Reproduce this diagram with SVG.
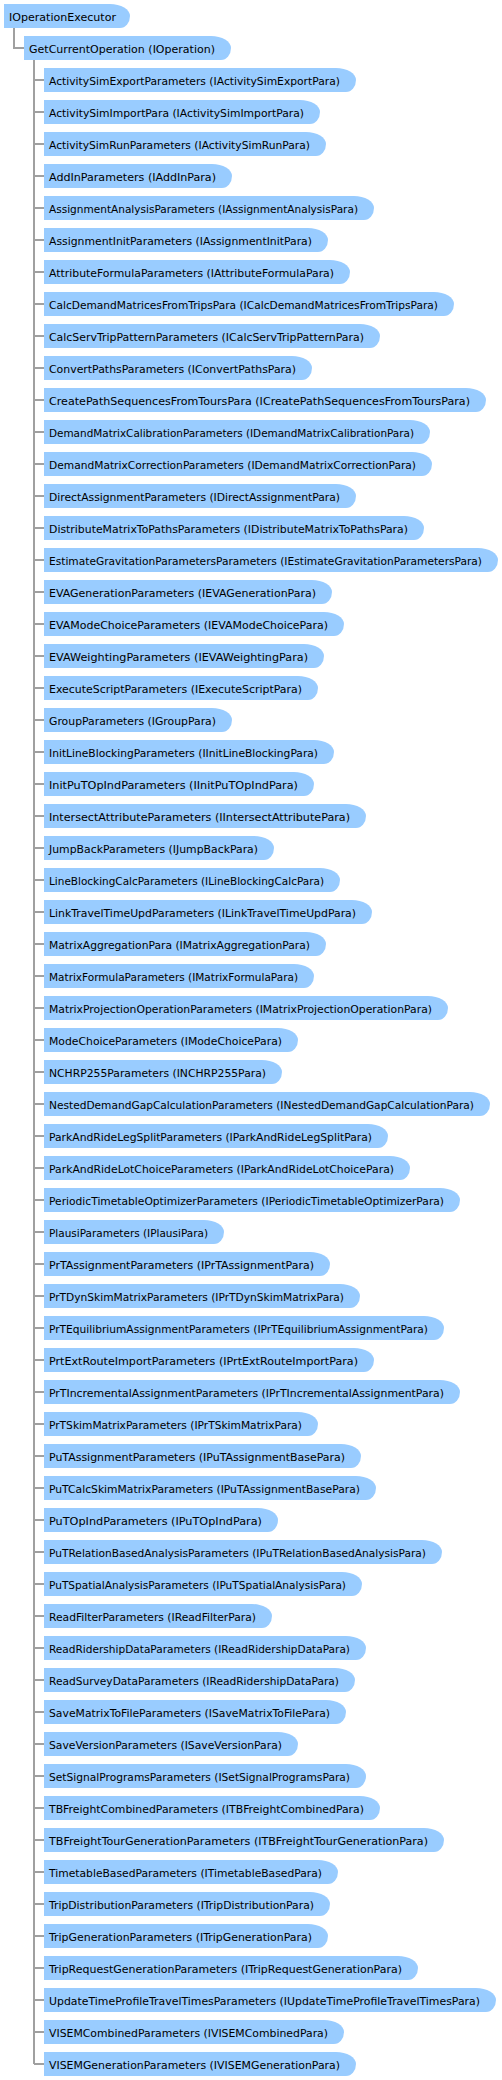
<svg xmlns="http://www.w3.org/2000/svg" width="502" height="2080" viewBox="0 0 502 2080">
<style>
.n path{fill:#99CCFF;stroke:none}
.n text{font-family:"DejaVu Sans",Verdana,sans-serif;font-size:11px;fill:#000}
.c{stroke:#A0A0A0;stroke-width:2;fill:none}
</style>
<rect width="502" height="2080" fill="#fff"/>
<g id="connectors" class="c">
<path d="M14 28V48H24M34 60V2064"/>
<path d="M34 80H44M34 112H44M34 144H44M34 176H44M34 208H44M34 240H44M34 272H44M34 304H44M34 336H44M34 368H44M34 400H44M34 432H44M34 464H44M34 496H44M34 528H44M34 560H44M34 592H44M34 624H44M34 656H44M34 688H44M34 720H44M34 752H44M34 784H44M34 816H44M34 848H44M34 880H44M34 912H44M34 944H44M34 976H44M34 1008H44M34 1040H44M34 1072H44M34 1104H44M34 1136H44M34 1168H44M34 1200H44M34 1232H44M34 1264H44M34 1296H44M34 1328H44M34 1360H44M34 1392H44M34 1424H44M34 1456H44M34 1488H44M34 1520H44M34 1552H44M34 1584H44M34 1616H44M34 1648H44M34 1680H44M34 1712H44M34 1744H44M34 1776H44M34 1808H44M34 1840H44M34 1872H44M34 1904H44M34 1936H44M34 1968H44M34 2000H44M34 2032H44M34 2064H44"/>
</g>
<g id="root" class="n"><path d="M4 4H110A20 12 0 0 1 130 16A10 12 0 0 1 120 28H4Z"/><text x="9" y="21" textLength="107" lengthAdjust="spacingAndGlyphs">IOperationExecutor</text></g>
<g id="getop" class="n"><path d="M24 36H211A20 12 0 0 1 231 48A10 12 0 0 1 221 60H24Z"/><text x="29" y="53" textLength="186" lengthAdjust="spacingAndGlyphs">GetCurrentOperation (IOperation)</text></g>
<g id="n1" class="n"><path d="M44 68H336A20 12 0 0 1 356 80A10 12 0 0 1 346 92H44Z"/><text x="49" y="85" textLength="291" lengthAdjust="spacingAndGlyphs">ActivitySimExportParameters (IActivitySimExportPara)</text></g>
<g id="n2" class="n"><path d="M44 100H300A20 12 0 0 1 320 112A10 12 0 0 1 310 124H44Z"/><text x="49" y="117" textLength="255" lengthAdjust="spacingAndGlyphs">ActivitySimImportPara (IActivitySimImportPara)</text></g>
<g id="n3" class="n"><path d="M44 132H306A20 12 0 0 1 326 144A10 12 0 0 1 316 156H44Z"/><text x="49" y="149" textLength="261" lengthAdjust="spacingAndGlyphs">ActivitySimRunParameters (IActivitySimRunPara)</text></g>
<g id="n4" class="n"><path d="M44 164H212A20 12 0 0 1 232 176A10 12 0 0 1 222 188H44Z"/><text x="49" y="181" textLength="167" lengthAdjust="spacingAndGlyphs">AddInParameters (IAddInPara)</text></g>
<g id="n5" class="n"><path d="M44 196H354A20 12 0 0 1 374 208A10 12 0 0 1 364 220H44Z"/><text x="49" y="213" textLength="309" lengthAdjust="spacingAndGlyphs">AssignmentAnalysisParameters (IAssignmentAnalysisPara)</text></g>
<g id="n6" class="n"><path d="M44 228H308A20 12 0 0 1 328 240A10 12 0 0 1 318 252H44Z"/><text x="49" y="245" textLength="263" lengthAdjust="spacingAndGlyphs">AssignmentInitParameters (IAssignmentInitPara)</text></g>
<g id="n7" class="n"><path d="M44 260H330A20 12 0 0 1 350 272A10 12 0 0 1 340 284H44Z"/><text x="49" y="277" textLength="285" lengthAdjust="spacingAndGlyphs">AttributeFormulaParameters (IAttributeFormulaPara)</text></g>
<g id="n8" class="n"><path d="M44 292H434A20 12 0 0 1 454 304A10 12 0 0 1 444 316H44Z"/><text x="49" y="309" textLength="389" lengthAdjust="spacingAndGlyphs">CalcDemandMatricesFromTripsPara (ICalcDemandMatricesFromTripsPara)</text></g>
<g id="n9" class="n"><path d="M44 324H360A20 12 0 0 1 380 336A10 12 0 0 1 370 348H44Z"/><text x="49" y="341" textLength="315" lengthAdjust="spacingAndGlyphs">CalcServTripPatternParameters (ICalcServTripPatternPara)</text></g>
<g id="n10" class="n"><path d="M44 356H292A20 12 0 0 1 312 368A10 12 0 0 1 302 380H44Z"/><text x="49" y="373" textLength="247" lengthAdjust="spacingAndGlyphs">ConvertPathsParameters (IConvertPathsPara)</text></g>
<g id="n11" class="n"><path d="M44 388H466A20 12 0 0 1 486 400A10 12 0 0 1 476 412H44Z"/><text x="49" y="405" textLength="421" lengthAdjust="spacingAndGlyphs">CreatePathSequencesFromToursPara (ICreatePathSequencesFromToursPara)</text></g>
<g id="n12" class="n"><path d="M44 420H410A20 12 0 0 1 430 432A10 12 0 0 1 420 444H44Z"/><text x="49" y="437" textLength="365" lengthAdjust="spacingAndGlyphs">DemandMatrixCalibrationParameters (IDemandMatrixCalibrationPara)</text></g>
<g id="n13" class="n"><path d="M44 452H412A20 12 0 0 1 432 464A10 12 0 0 1 422 476H44Z"/><text x="49" y="469" textLength="367" lengthAdjust="spacingAndGlyphs">DemandMatrixCorrectionParameters (IDemandMatrixCorrectionPara)</text></g>
<g id="n14" class="n"><path d="M44 484H336A20 12 0 0 1 356 496A10 12 0 0 1 346 508H44Z"/><text x="49" y="501" textLength="291" lengthAdjust="spacingAndGlyphs">DirectAssignmentParameters (IDirectAssignmentPara)</text></g>
<g id="n15" class="n"><path d="M44 516H404A20 12 0 0 1 424 528A10 12 0 0 1 414 540H44Z"/><text x="49" y="533" textLength="359" lengthAdjust="spacingAndGlyphs">DistributeMatrixToPathsParameters (IDistributeMatrixToPathsPara)</text></g>
<g id="n16" class="n"><path d="M44 548H478A20 12 0 0 1 498 560A10 12 0 0 1 488 572H44Z"/><text x="49" y="565" textLength="433" lengthAdjust="spacingAndGlyphs">EstimateGravitationParametersParameters (IEstimateGravitationParametersPara)</text></g>
<g id="n17" class="n"><path d="M44 580H312A20 12 0 0 1 332 592A10 12 0 0 1 322 604H44Z"/><text x="49" y="597" textLength="267" lengthAdjust="spacingAndGlyphs">EVAGenerationParameters (IEVAGenerationPara)</text></g>
<g id="n18" class="n"><path d="M44 612H324A20 12 0 0 1 344 624A10 12 0 0 1 334 636H44Z"/><text x="49" y="629" textLength="279" lengthAdjust="spacingAndGlyphs">EVAModeChoiceParameters (IEVAModeChoicePara)</text></g>
<g id="n19" class="n"><path d="M44 644H304A20 12 0 0 1 324 656A10 12 0 0 1 314 668H44Z"/><text x="49" y="661" textLength="259" lengthAdjust="spacingAndGlyphs">EVAWeightingParameters (IEVAWeightingPara)</text></g>
<g id="n20" class="n"><path d="M44 676H298A20 12 0 0 1 318 688A10 12 0 0 1 308 700H44Z"/><text x="49" y="693" textLength="253" lengthAdjust="spacingAndGlyphs">ExecuteScriptParameters (IExecuteScriptPara)</text></g>
<g id="n21" class="n"><path d="M44 708H212A20 12 0 0 1 232 720A10 12 0 0 1 222 732H44Z"/><text x="49" y="725" textLength="167" lengthAdjust="spacingAndGlyphs">GroupParameters (IGroupPara)</text></g>
<g id="n22" class="n"><path d="M44 740H314A20 12 0 0 1 334 752A10 12 0 0 1 324 764H44Z"/><text x="49" y="757" textLength="269" lengthAdjust="spacingAndGlyphs">InitLineBlockingParameters (IInitLineBlockingPara)</text></g>
<g id="n23" class="n"><path d="M44 772H294A20 12 0 0 1 314 784A10 12 0 0 1 304 796H44Z"/><text x="49" y="789" textLength="249" lengthAdjust="spacingAndGlyphs">InitPuTOpIndParameters (IInitPuTOpIndPara)</text></g>
<g id="n24" class="n"><path d="M44 804H346A20 12 0 0 1 366 816A10 12 0 0 1 356 828H44Z"/><text x="49" y="821" textLength="301" lengthAdjust="spacingAndGlyphs">IntersectAttributeParameters (IIntersectAttributePara)</text></g>
<g id="n25" class="n"><path d="M44 836H254A20 12 0 0 1 274 848A10 12 0 0 1 264 860H44Z"/><text x="49" y="853" textLength="209" lengthAdjust="spacingAndGlyphs">JumpBackParameters (IJumpBackPara)</text></g>
<g id="n26" class="n"><path d="M44 868H320A20 12 0 0 1 340 880A10 12 0 0 1 330 892H44Z"/><text x="49" y="885" textLength="275" lengthAdjust="spacingAndGlyphs">LineBlockingCalcParameters (ILineBlockingCalcPara)</text></g>
<g id="n27" class="n"><path d="M44 900H352A20 12 0 0 1 372 912A10 12 0 0 1 362 924H44Z"/><text x="49" y="917" textLength="307" lengthAdjust="spacingAndGlyphs">LinkTravelTimeUpdParameters (ILinkTravelTimeUpdPara)</text></g>
<g id="n28" class="n"><path d="M44 932H306A20 12 0 0 1 326 944A10 12 0 0 1 316 956H44Z"/><text x="49" y="949" textLength="261" lengthAdjust="spacingAndGlyphs">MatrixAggregationPara (IMatrixAggregationPara)</text></g>
<g id="n29" class="n"><path d="M44 964H294A20 12 0 0 1 314 976A10 12 0 0 1 304 988H44Z"/><text x="49" y="981" textLength="249" lengthAdjust="spacingAndGlyphs">MatrixFormulaParameters (IMatrixFormulaPara)</text></g>
<g id="n30" class="n"><path d="M44 996H428A20 12 0 0 1 448 1008A10 12 0 0 1 438 1020H44Z"/><text x="49" y="1013" textLength="383" lengthAdjust="spacingAndGlyphs">MatrixProjectionOperationParameters (IMatrixProjectionOperationPara)</text></g>
<g id="n31" class="n"><path d="M44 1028H278A20 12 0 0 1 298 1040A10 12 0 0 1 288 1052H44Z"/><text x="49" y="1045" textLength="233" lengthAdjust="spacingAndGlyphs">ModeChoiceParameters (IModeChoicePara)</text></g>
<g id="n32" class="n"><path d="M44 1060H262A20 12 0 0 1 282 1072A10 12 0 0 1 272 1084H44Z"/><text x="49" y="1077" textLength="217" lengthAdjust="spacingAndGlyphs">NCHRP255Parameters (INCHRP255Para)</text></g>
<g id="n33" class="n"><path d="M44 1092H470A20 12 0 0 1 490 1104A10 12 0 0 1 480 1116H44Z"/><text x="49" y="1109" textLength="425" lengthAdjust="spacingAndGlyphs">NestedDemandGapCalculationParameters (INestedDemandGapCalculationPara)</text></g>
<g id="n34" class="n"><path d="M44 1124H368A20 12 0 0 1 388 1136A10 12 0 0 1 378 1148H44Z"/><text x="49" y="1141" textLength="323" lengthAdjust="spacingAndGlyphs">ParkAndRideLegSplitParameters (IParkAndRideLegSplitPara)</text></g>
<g id="n35" class="n"><path d="M44 1156H390A20 12 0 0 1 410 1168A10 12 0 0 1 400 1180H44Z"/><text x="49" y="1173" textLength="345" lengthAdjust="spacingAndGlyphs">ParkAndRideLotChoiceParameters (IParkAndRideLotChoicePara)</text></g>
<g id="n36" class="n"><path d="M44 1188H440A20 12 0 0 1 460 1200A10 12 0 0 1 450 1212H44Z"/><text x="49" y="1205" textLength="395" lengthAdjust="spacingAndGlyphs">PeriodicTimetableOptimizerParameters (IPeriodicTimetableOptimizerPara)</text></g>
<g id="n37" class="n"><path d="M44 1220H204A20 12 0 0 1 224 1232A10 12 0 0 1 214 1244H44Z"/><text x="49" y="1237" textLength="159" lengthAdjust="spacingAndGlyphs">PlausiParameters (IPlausiPara)</text></g>
<g id="n38" class="n"><path d="M44 1252H310A20 12 0 0 1 330 1264A10 12 0 0 1 320 1276H44Z"/><text x="49" y="1269" textLength="265" lengthAdjust="spacingAndGlyphs">PrTAssignmentParameters (IPrTAssignmentPara)</text></g>
<g id="n39" class="n"><path d="M44 1284H340A20 12 0 0 1 360 1296A10 12 0 0 1 350 1308H44Z"/><text x="49" y="1301" textLength="295" lengthAdjust="spacingAndGlyphs">PrTDynSkimMatrixParameters (IPrTDynSkimMatrixPara)</text></g>
<g id="n40" class="n"><path d="M44 1316H424A20 12 0 0 1 444 1328A10 12 0 0 1 434 1340H44Z"/><text x="49" y="1333" textLength="379" lengthAdjust="spacingAndGlyphs">PrTEquilibriumAssignmentParameters (IPrTEquilibriumAssignmentPara)</text></g>
<g id="n41" class="n"><path d="M44 1348H354A20 12 0 0 1 374 1360A10 12 0 0 1 364 1372H44Z"/><text x="49" y="1365" textLength="309" lengthAdjust="spacingAndGlyphs">PrtExtRouteImportParameters (IPrtExtRouteImportPara)</text></g>
<g id="n42" class="n"><path d="M44 1380H440A20 12 0 0 1 460 1392A10 12 0 0 1 450 1404H44Z"/><text x="49" y="1397" textLength="395" lengthAdjust="spacingAndGlyphs">PrTIncrementalAssignmentParameters (IPrTIncrementalAssignmentPara)</text></g>
<g id="n43" class="n"><path d="M44 1412H298A20 12 0 0 1 318 1424A10 12 0 0 1 308 1436H44Z"/><text x="49" y="1429" textLength="253" lengthAdjust="spacingAndGlyphs">PrTSkimMatrixParameters (IPrTSkimMatrixPara)</text></g>
<g id="n44" class="n"><path d="M44 1444H341A20 12 0 0 1 361 1456A10 12 0 0 1 351 1468H44Z"/><text x="49" y="1461" textLength="296" lengthAdjust="spacingAndGlyphs">PuTAssignmentParameters (IPuTAssignmentBasePara)</text></g>
<g id="n45" class="n"><path d="M44 1476H356A20 12 0 0 1 376 1488A10 12 0 0 1 366 1500H44Z"/><text x="49" y="1493" textLength="311" lengthAdjust="spacingAndGlyphs">PuTCalcSkimMatrixParameters (IPuTAssignmentBasePara)</text></g>
<g id="n46" class="n"><path d="M44 1508H258A20 12 0 0 1 278 1520A10 12 0 0 1 268 1532H44Z"/><text x="49" y="1525" textLength="213" lengthAdjust="spacingAndGlyphs">PuTOpIndParameters (IPuTOpIndPara)</text></g>
<g id="n47" class="n"><path d="M44 1540H422A20 12 0 0 1 442 1552A10 12 0 0 1 432 1564H44Z"/><text x="49" y="1557" textLength="377" lengthAdjust="spacingAndGlyphs">PuTRelationBasedAnalysisParameters (IPuTRelationBasedAnalysisPara)</text></g>
<g id="n48" class="n"><path d="M44 1572H342A20 12 0 0 1 362 1584A10 12 0 0 1 352 1596H44Z"/><text x="49" y="1589" textLength="297" lengthAdjust="spacingAndGlyphs">PuTSpatialAnalysisParameters (IPuTSpatialAnalysisPara)</text></g>
<g id="n49" class="n"><path d="M44 1604H252A20 12 0 0 1 272 1616A10 12 0 0 1 262 1628H44Z"/><text x="49" y="1621" textLength="207" lengthAdjust="spacingAndGlyphs">ReadFilterParameters (IReadFilterPara)</text></g>
<g id="n50" class="n"><path d="M44 1636H346A20 12 0 0 1 366 1648A10 12 0 0 1 356 1660H44Z"/><text x="49" y="1653" textLength="301" lengthAdjust="spacingAndGlyphs">ReadRidershipDataParameters (IReadRidershipDataPara)</text></g>
<g id="n51" class="n"><path d="M44 1668H335A20 12 0 0 1 355 1680A10 12 0 0 1 345 1692H44Z"/><text x="49" y="1685" textLength="290" lengthAdjust="spacingAndGlyphs">ReadSurveyDataParameters (IReadRidershipDataPara)</text></g>
<g id="n52" class="n"><path d="M44 1700H326A20 12 0 0 1 346 1712A10 12 0 0 1 336 1724H44Z"/><text x="49" y="1717" textLength="281" lengthAdjust="spacingAndGlyphs">SaveMatrixToFileParameters (ISaveMatrixToFilePara)</text></g>
<g id="n53" class="n"><path d="M44 1732H278A20 12 0 0 1 298 1744A10 12 0 0 1 288 1756H44Z"/><text x="49" y="1749" textLength="233" lengthAdjust="spacingAndGlyphs">SaveVersionParameters (ISaveVersionPara)</text></g>
<g id="n54" class="n"><path d="M44 1764H346A20 12 0 0 1 366 1776A10 12 0 0 1 356 1788H44Z"/><text x="49" y="1781" textLength="301" lengthAdjust="spacingAndGlyphs">SetSignalProgramsParameters (ISetSignalProgramsPara)</text></g>
<g id="n55" class="n"><path d="M44 1796H360A20 12 0 0 1 380 1808A10 12 0 0 1 370 1820H44Z"/><text x="49" y="1813" textLength="315" lengthAdjust="spacingAndGlyphs">TBFreightCombinedParameters (ITBFreightCombinedPara)</text></g>
<g id="n56" class="n"><path d="M44 1828H424A20 12 0 0 1 444 1840A10 12 0 0 1 434 1852H44Z"/><text x="49" y="1845" textLength="379" lengthAdjust="spacingAndGlyphs">TBFreightTourGenerationParameters (ITBFreightTourGenerationPara)</text></g>
<g id="n57" class="n"><path d="M44 1860H318A20 12 0 0 1 338 1872A10 12 0 0 1 328 1884H44Z"/><text x="49" y="1877" textLength="273" lengthAdjust="spacingAndGlyphs">TimetableBasedParameters (ITimetableBasedPara)</text></g>
<g id="n58" class="n"><path d="M44 1892H310A20 12 0 0 1 330 1904A10 12 0 0 1 320 1916H44Z"/><text x="49" y="1909" textLength="265" lengthAdjust="spacingAndGlyphs">TripDistributionParameters (ITripDistributionPara)</text></g>
<g id="n59" class="n"><path d="M44 1924H308A20 12 0 0 1 328 1936A10 12 0 0 1 318 1948H44Z"/><text x="49" y="1941" textLength="263" lengthAdjust="spacingAndGlyphs">TripGenerationParameters (ITripGenerationPara)</text></g>
<g id="n60" class="n"><path d="M44 1956H398A20 12 0 0 1 418 1968A10 12 0 0 1 408 1980H44Z"/><text x="49" y="1973" textLength="353" lengthAdjust="spacingAndGlyphs">TripRequestGenerationParameters (ITripRequestGenerationPara)</text></g>
<g id="n61" class="n"><path d="M44 1988H476A20 12 0 0 1 496 2000A10 12 0 0 1 486 2012H44Z"/><text x="49" y="2005" textLength="431" lengthAdjust="spacingAndGlyphs">UpdateTimeProfileTravelTimesParameters (IUpdateTimeProfileTravelTimesPara)</text></g>
<g id="n62" class="n"><path d="M44 2020H324A20 12 0 0 1 344 2032A10 12 0 0 1 334 2044H44Z"/><text x="49" y="2037" textLength="279" lengthAdjust="spacingAndGlyphs">VISEMCombinedParameters (IVISEMCombinedPara)</text></g>
<g id="n63" class="n"><path d="M44 2052H336A20 12 0 0 1 356 2064A10 12 0 0 1 346 2076H44Z"/><text x="49" y="2069" textLength="291" lengthAdjust="spacingAndGlyphs">VISEMGenerationParameters (IVISEMGenerationPara)</text></g>
</svg>
